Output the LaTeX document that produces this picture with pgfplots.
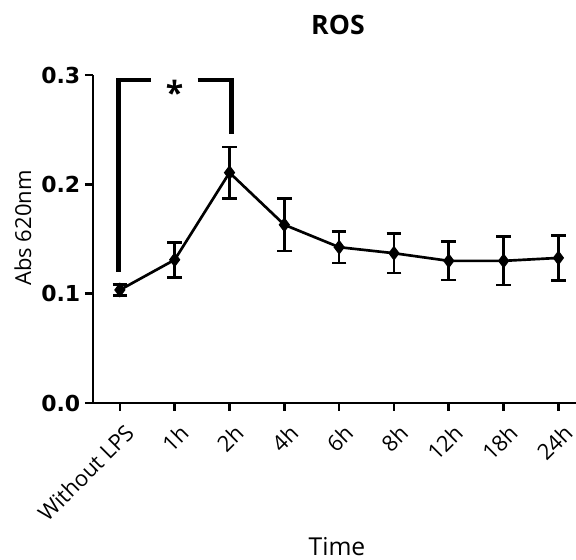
\documentclass[border=0pt]{standalone}
\usepackage{pgfplots}
\pgfplotsset{compat=1.18}
\usepackage{fontspec}
\setmainfont{Open Sans}
\newfontfamily\numfont{DejaVu Sans}

\begin{document}
\begin{tikzpicture}
  \useasboundingbox (-69.75pt,-117.75pt) rectangle (362.25pt,302.25pt);
  \begin{axis}[
    at={(0,0)}, anchor=south west,
    scale only axis,
    width=362.25pt, height=246pt,
    xmin=-0.49, xmax=8.32,
    ymin=0, ymax=0.3,
    axis lines=left,
    axis line style={-, line width=2.2pt},
    tick align=outside,
    major tick length=6pt,
    tick style={line width=2pt, black},
    xtick={0,...,8},
    xticklabels={Without LPS,1h,2h,4h,6h,8h,12h,18h,24h},
    xticklabel style={rotate=45, anchor=north east, font=\fontsize{16.5}{18}\selectfont, inner sep=1pt, xshift=4pt},
    xticklabel shift=10pt,
    ytick={0,0.1,0.2,0.3},
    yticklabel style={font=\numfont\bfseries\fontsize{16.5}{18}\selectfont,
      /pgf/number format/.cd, fixed, fixed zerofill, precision=1, assume math mode=true},
    clip=false,
  ]
    \addplot[black, line width=2pt, mark=diamond*, mark size=4pt,
      error bars/.cd, y dir=both, y explicit,
      error bar style={line width=2pt},
      error mark options={rotate=90, mark size=5.5pt, line width=2pt}]
      coordinates {
        (0, 0.1034) +- (0, 0.0050)
        (1, 0.1310) +- (0, 0.0160)
        (2, 0.2107) +- (0, 0.0235)
        (3, 0.1630) +- (0, 0.0240)
        (4, 0.1425) +- (0, 0.0145)
        (5, 0.1370) +- (0, 0.0180)
        (6, 0.1300) +- (0, 0.0175)
        (7, 0.1300) +- (0, 0.0220)
        (8, 0.1327) +- (0, 0.0207)
      };
    % significance bracket
    \draw[line width=3.5pt, line cap=butt] (axis cs:-0.03,0.120) -- (axis cs:-0.03,0.2955) -- (axis cs:0.57,0.2955);
    \draw[line width=3.5pt, line cap=butt] (axis cs:1.42,0.2955) -- (axis cs:2.04,0.2955) -- (axis cs:2.04,0.246);
    \node[font=\bfseries\fontsize{24}{26}\selectfont] at (axis cs:1.0,0.284) {*};
  \end{axis}
  \node[font=\bfseries\fontsize{20}{22}\selectfont] at (183.75pt,283.5pt) {ROS};
  \node[font=\fontsize{18.5}{20}\selectfont, inner sep=0pt, anchor=base] at (183pt,-114.5pt) {Time};
  \node[rotate=90, font=\fontsize{16.5}{18}\selectfont] at (-52.5pt,131.25pt) {Abs 620nm};
\end{tikzpicture}
\end{document}
